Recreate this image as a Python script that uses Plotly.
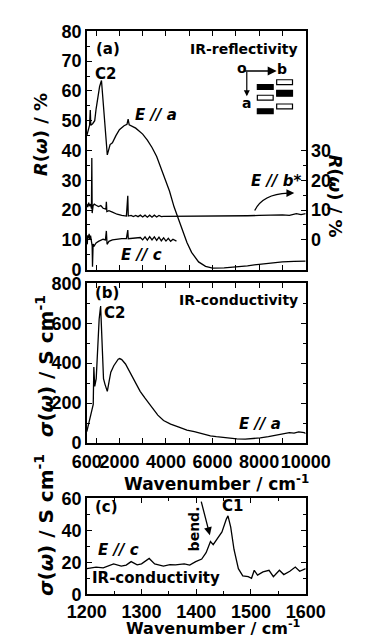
import plotly.graph_objects as go

# ---------------- data ----------------
# Panel (a): reflectivity, E // a (left axis, %)
wn_a = [600, 650, 720, 750, 770, 850, 940, 1000, 1064, 1150, 1230, 1280, 1350, 1420, 1480,
        1600, 1700, 1850, 2000, 2200, 2325, 2375, 2420, 2700, 3000, 3200, 3400, 3600, 3770,
        3950, 4150, 4350, 4526, 4700, 4900, 5100, 5400, 5700, 6000, 6500, 7000, 7500, 8000,
        8500, 9000, 9500, 10000]
refl_a = [45, 47, 48.5, 53.6, 48.5, 49, 50, 54, 58, 61.5, 63.5, 58, 50, 43, 38.5,
          42, 42.6, 45, 47, 48.3, 48.8, 50.5, 48.6, 47.5, 45.5, 43.5, 41, 38, 34.6,
          30.8, 26.4, 21, 17.2, 13, 9.1, 5.8, 2.6, 1.1, 0.5, 0.6, 0.9, 1.3, 1.8,
          2.3, 2.6, 2.8, 2.9]

# Panel (a): reflectivity, E // b* (right axis, %)
wn_b = [600, 640, 680, 720, 760, 800, 815, 830, 870, 920, 1000, 1100, 1200, 1300, 1420, 1440,
        1460, 1550, 1700, 1900, 2100, 2300, 2360, 2380, 2500, 2600, 2700, 2800, 2900, 3000,
        3100, 3200, 3300, 3400, 3500, 3600, 3700, 3800, 3900, 4200, 4600, 5000, 5500, 6000,
        6500, 7000, 7500, 8000, 8500, 9000, 9300, 9600, 9800, 10000]
refl_b = [12, 11, 12.5, 11.3, 12, 10.5, 27.5, 9, 11.5, 12, 11.6, 11.2, 11.5, 10.6, 10.3, 12.8,
          9.5, 9.8, 9.3, 8.6, 8.2, 8.0, 14.8, 8.0, 8.2, 7.8, 8.2, 7.8, 8.3, 7.7,
          8.3, 7.6, 8.3, 7.6, 8.3, 7.7, 8.2, 7.8, 7.9, 7.9, 7.9, 7.9, 7.9, 7.9,
          8.0, 8.0, 8.1, 8.2, 8.3, 8.4, 8.2, 8.8, 8.5, 8.8]

# Panel (a): reflectivity, E // c (left axis, %)
wn_c = [600, 620, 640, 670, 700, 730, 760, 800, 830, 845, 870, 920, 1000, 1100, 1200, 1300,
        1400, 1440, 1470, 1550, 1700, 1900, 2100, 2300, 2360, 2380, 2500, 2700, 2900, 3000,
        3100, 3200, 3300, 3400, 3500, 3600, 3700, 3800, 3900, 4000, 4100, 4200, 4300, 4450]
refl_c = [9.8, 8.5, 11.5, 10.5, 12, 10, 11.4, 9.5, 8, 1, 8.6, 8, 9, 9.5, 9.8, 10.2,
          10, 13, 8.5, 9.5, 10, 10.3, 10.4, 10.4, 13.3, 10.4, 10.5, 10.5, 10.8, 10.0,
          11.0, 9.9, 11.1, 10.0, 11.0, 9.8, 10.9, 9.7, 10.7, 9.6, 10.5, 9.5, 10.2, 9.6]

# Panel (b): conductivity, E // a (S/cm)
wn_s = [600, 700, 800, 876, 902, 940, 1004, 1064, 1130, 1193, 1250, 1317, 1381, 1480, 1560,
        1631, 1759, 1948, 2008, 2100, 2261, 2514, 2700, 2891, 3100, 3394, 3650, 3896, 4200,
        4526, 4900, 5217, 5600, 5908, 6161, 6600, 7044, 7400, 7700, 8048, 8400, 8800, 9048,
        9300, 9500, 9700, 9935, 10000]
sigma_a = [57, 110, 160, 194, 381, 284, 323, 484, 620, 686, 520, 323, 294, 259, 310,
           355, 387, 420, 423, 418, 396, 339, 300, 259, 225, 178, 140, 113, 95,
           81, 65, 57, 45, 36, 32, 26, 21, 20, 22, 26, 32, 40, 45,
           52, 50, 56, 52, 48]

# Panel (c): conductivity, E // c (S/cm)
wn_cc = [1200, 1217, 1230, 1239, 1249, 1263, 1272, 1281, 1292, 1300, 1314, 1324, 1340, 1352,
         1362, 1378, 1388, 1399, 1410, 1418, 1426, 1431, 1437, 1447, 1455, 1458, 1463, 1469,
         1477, 1485, 1495, 1501, 1506, 1512, 1522, 1533, 1541, 1552, 1560, 1571, 1581, 1589, 1600]
sigma_c = [16, 17, 16.5, 17.6, 19, 17.6, 18.2, 20.4, 18.4, 19, 22.4, 19, 17.6, 18.5,
           18.4, 19, 18.2, 20.4, 22, 26, 33, 31, 34, 39, 47, 49, 42, 28,
           16, 11.5, 11, 10, 15, 12, 14, 15, 11, 15, 12.3, 14.4, 17, 14.4, 16]

xticks_ab = [600, 2000, 4000, 6000, 8000, 10000]
xticktext_ab = ["600", "2000", "4000", "6000", "8000", "10000"]
xminor_ab = [1000, 3000, 5000, 7000, 9000]

# ---------------- layout helpers ----------------
W, H = 372, 643
FONT = "DejaVu Sans"
TICKFONT = "Liberation Sans"


def PX(x):
    return x / W


def PY(y):
    return 1 - y / H


X_DOM = [PX(76), PX(325)]
DOM_A = [PY(268), PY(22)]
DOM_B = [PY(447), PY(282)]
DOM_C = [PY(603), PY(504)]

LINE = dict(color="black", width=1.3)
tickfont = dict(family=TICKFONT, size=18, color="black", weight="bold")

fig = go.Figure()
fig.add_trace(go.Scatter(x=wn_a, y=refl_a, mode="lines", line=LINE, xaxis="x", yaxis="y"))
fig.add_trace(go.Scatter(x=wn_c, y=refl_c, mode="lines", line=LINE, xaxis="x", yaxis="y"))
fig.add_trace(go.Scatter(x=wn_b, y=refl_b, mode="lines", line=LINE, xaxis="x", yaxis="y2"))
fig.add_trace(go.Scatter(x=wn_s, y=sigma_a, mode="lines", line=LINE, xaxis="x2", yaxis="y3"))
fig.add_trace(go.Scatter(x=wn_cc, y=sigma_c, mode="lines", line=LINE, xaxis="x3", yaxis="y4"))

axis_common = dict(showline=True, linecolor="black", linewidth=1.5, ticks="inside",
                   ticklen=5, tickwidth=1.2, tickcolor="black", showgrid=False,
                   zeroline=False, tickfont=tickfont)

fig.update_layout(
    width=W, height=H, margin=dict(l=0, r=0, t=0, b=0),
    paper_bgcolor="white", plot_bgcolor="white", showlegend=False,
    xaxis=dict(domain=X_DOM, anchor="y", range=[600, 10000], tickmode="array",
               tickvals=xticks_ab, showticklabels=False, mirror="ticks",
               minor=dict(tickvals=xminor_ab, ticks="inside", ticklen=5, tickcolor="black"),
               **axis_common),
    yaxis=dict(domain=DOM_A, anchor="x", range=[0, 80], dtick=10,
               minor=dict(dtick=5, ticks="inside", ticklen=3, tickcolor="black"),
               **axis_common),
    yaxis2=dict(overlaying="y", side="right", anchor="x", range=[-10, 70], tickmode="array",
                tickvals=[0, 10, 20, 30],
                minor=dict(tickvals=[5, 15, 25], ticks="inside", ticklen=3, tickcolor="black"),
                **axis_common),
    xaxis2=dict(domain=X_DOM, anchor="y3", range=[600, 10000], tickmode="array",
                tickvals=xticks_ab, ticktext=xticktext_ab, tickangle=0, mirror="ticks",
                ticklabelstandoff=2,
                minor=dict(tickvals=xminor_ab, ticks="inside", ticklen=5, tickcolor="black"),
                **axis_common),
    yaxis3=dict(domain=DOM_B, anchor="x2", range=[0, 800], dtick=200, mirror="ticks",
                minor=dict(dtick=100, ticks="inside", ticklen=3, tickcolor="black"),
                **axis_common),
    xaxis3=dict(domain=X_DOM, anchor="y4", range=[1200, 1600], dtick=100, mirror="ticks",
                tickangle=0, ticklabelstandoff=0,
                minor=dict(dtick=50, ticks="inside", ticklen=3, tickcolor="black"),
                **axis_common),
    yaxis4=dict(domain=DOM_C, anchor="x3", range=[0, 60], dtick=20, mirror="ticks",
                minor=dict(dtick=10, ticks="inside", ticklen=3, tickcolor="black"),
                **axis_common),
)


def label(text, x, y, size=14, xanchor="center", yanchor="middle", italic=False, angle=0):
    fig.add_annotation(text=text, x=PX(x), y=PY(y), xref="paper", yref="paper",
                       xanchor=xanchor, yanchor=yanchor, showarrow=False, textangle=angle,
                       font=dict(family=FONT, size=size, color="black", weight="bold",
                                 style="italic" if italic else "normal"))


def arrow(x_head, y_head, x_tail, y_tail, size=1.2, width=1.3):
    fig.add_annotation(x=PX(x_head), y=PY(y_head), xref="paper", yref="paper",
                       ax=x_tail - x_head, ay=y_tail - y_head, axref="pixel", ayref="pixel",
                       text="", showarrow=True, arrowhead=2, arrowsize=size,
                       arrowwidth=width, arrowcolor="black")


# panel (a) texts
label("(a)", 84, 40, 15, xanchor="left")
label("C2", 97, 66, 15)
label("IR-reflectivity", 319, 40, 14, xanchor="right")
label("E // a", 155, 108, 15, italic=True)
label("E // b*", 291, 177, 15, italic=True)
label("E // c", 138, 253, 15, italic=True)
label("<i>R</i>(<i>ω</i>) / %", 24, 129, 18, angle=-90)
label("<i>R</i>(<i>ω</i>) / %", 359, 192, 18, angle=90)

# inset crystal sketch
label("o", 253, 60, 14)
label("b", 298, 61, 14)
label("a", 258, 96, 14)
arrow(292, 63, 258, 63, 1.2, 1.5)
arrow(258, 89, 258, 63, 1.0, 1.2)
rects = [(270, 288, 77, 82, True), (270, 288, 88, 93, False), (270, 288, 102, 107, True),
         (292, 310, 72, 77, False), (292, 310, 83, 89, True), (292, 310, 97, 102, False)]
for x0, x1, y0, y1, filled in rects:
    fig.add_shape(type="rect", xref="paper", yref="paper", x0=PX(x0), x1=PX(x1),
                  y0=PY(y1), y1=PY(y0), line=dict(color="black", width=1.2),
                  fillcolor="black" if filled else "white")

# curved arrow for E // b*
fig.add_shape(type="path", xref="paper", yref="paper",
              path=f"M {PX(267)},{PY(207)} Q {PX(276)},{PY(190)} {PX(305)},{PY(189)}",
              line=dict(color="black", width=1.3))
arrow(312, 189, 304, 189)

# panel (b) texts
label("(b)", 83, 292, 15, xanchor="left")
label("C2", 108, 313, 15)
label("IR-conductivity", 318, 299, 14, xanchor="right")
label("E // a", 273, 427, 15, italic=True)
label("Wavenumber / cm<sup>-1</sup>", 223, 488, 17)
label("<i>σ</i>(<i>ω</i>) / S cm<sup>-1</sup>", 28, 368, 20, angle=-90)

# panel (c) texts
label("(c)", 83, 513, 15, xanchor="left")
label("C1", 242, 512, 15)
label("E // c", 112, 557, 15, italic=True)
label("IR-conductivity", 80, 586, 15, xanchor="left")
label("bend.", 198, 536, 14, angle=-90)
arrow(216, 542, 207, 507)
label("Wavenumber / cm<sup>-1</sup>", 220, 637, 16)
label("<i>σ</i>(<i>ω</i>) / S cm<sup>-1</sup>", 28, 532, 20, angle=-90)

fig.write_html("out.html")
